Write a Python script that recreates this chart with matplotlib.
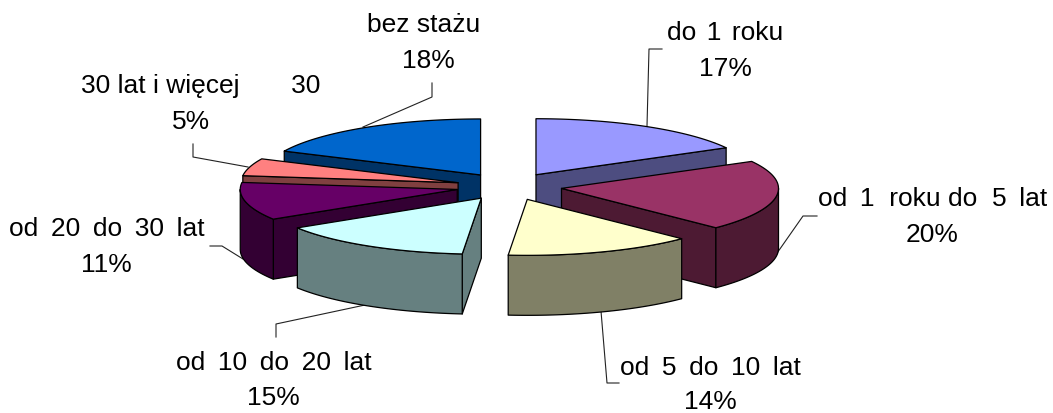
import numpy as np
import matplotlib
matplotlib.use('Agg')
import matplotlib.pyplot as plt
from matplotlib.patches import Polygon
from matplotlib.colors import to_rgb

T = '\u2009'
categories = ['do' + T + T + '1' + T + T + 'roku',
              'od ' + T + '1  roku do  5 ' + T + 'lat',
              'od ' + T + '5 ' + T + 'do ' + T + '10 ' + T + 'lat',
              'od ' + T + '10 ' + T + 'do ' + T + '20 ' + T + 'lat',
              'od ' + T + '20 ' + T + 'do ' + T + '30 ' + T + 'lat',
              '30 lat i więcej       30',
              'bez stażu']
# labels show the rounded share, the slices are a little more exact
values = [17.0, 20.4, 14.0, 14.7, 10.9, 5.0, 18.0]
colors = ['#9999FF', '#993366', '#FFFFCC', '#CCFFFF', '#660066', '#FF8080', '#0066CC']

# pie geometry, pixels
cx, cy = 509, 187.5
rx, ry = 217, 56
explode = 53
depth = 60

# painter's order, back to front
draw_order = [0, 6, 5, 4, 1, 2, 3]

# name centre x, name baseline, percent centre x, percent baseline
label_pos = [(725, 40, 725, 76), (933, 206, 932, 242), (710, 375, 710, 409), (274, 370, 273, 405),
             (107, 236, 106, 272), (201, 93, 191, 129), (424, 32, 428, 68)]
leaders = [[(662, 50), (649, 50), (647, 127)],
           [(817, 217), (803, 217), (775, 257)],
           [(619, 384), (607, 384), (601, 312)],
           [(276, 338), (276, 325), (365, 306)],
           [(210, 247), (222, 247), (243, 260)],
           [(193, 145), (193, 158), (248, 168)],
           [(432, 84), (432, 98), (363, 128)]]

plt.rcParams['font.family'] = ['Liberation Sans', 'DejaVu Sans']

fig = plt.figure(figsize=(10.53, 4.14), dpi=100)
ax = fig.add_axes([0, 0, 1, 1])
ax.set_xlim(0, 1053)
ax.set_ylim(414, 0)
ax.axis('off')


def rim_point(x0, y0, deg):
    a = np.radians(deg)
    return x0 + rx * np.sin(a), y0 - ry * np.cos(a)


def add_face(points, color, z):
    ax.add_patch(Polygon(points, closed=True, facecolor=color, edgecolor='black',
                         linewidth=0.9, joinstyle='round', zorder=z))


edges = np.cumsum([0] + values) * 3.6

for seg in leaders:
    ax.plot([p[0] for p in seg], [p[1] for p in seg], color='#222222', lw=0.8, zorder=1)

z = 2
for i in draw_order:
    start, end = edges[i], edges[i + 1]
    mid = np.radians((start + end) / 2)
    x0 = cx + explode * np.sin(mid)
    y0 = cy - explode * ry / rx * np.cos(mid)
    top = to_rgb(colors[i])
    side = tuple(c * 0.5 for c in top)

    # radial faces that look towards the viewer
    if np.sin(np.radians(start)) < -1e-6:
        px, py = rim_point(x0, y0, start)
        add_face([(x0, y0), (px, py), (px, py + depth), (x0, y0 + depth)], side, z)
        z += 1
    if np.sin(np.radians(end)) > 1e-6:
        px, py = rim_point(x0, y0, end)
        add_face([(x0, y0), (px, py), (px, py + depth), (x0, y0 + depth)], side, z)
        z += 1

    # outer wall, only the front part of the rim
    lo, hi = max(start, 90), min(end, 270)
    if hi > lo:
        upper = [rim_point(x0, y0, d) for d in np.linspace(lo, hi, 60)]
        lower = [(x, y + depth) for x, y in upper[::-1]]
        add_face(upper + lower, side, z)
        z += 1

    # top face
    arc = [rim_point(x0, y0, d) for d in np.linspace(start, end, 80)]
    add_face([(x0, y0)] + arc, top, z)
    z += 1

for name, val, pos in zip(categories, values, label_pos):
    ax.text(pos[0], pos[1], name, fontsize=19, ha='center', va='baseline', color='black', zorder=50)
    ax.text(pos[2], pos[3], '{:.0f}%'.format(val), fontsize=19, ha='center', va='baseline',
            color='black', zorder=50)

fig.savefig('out.png', dpi=100)
